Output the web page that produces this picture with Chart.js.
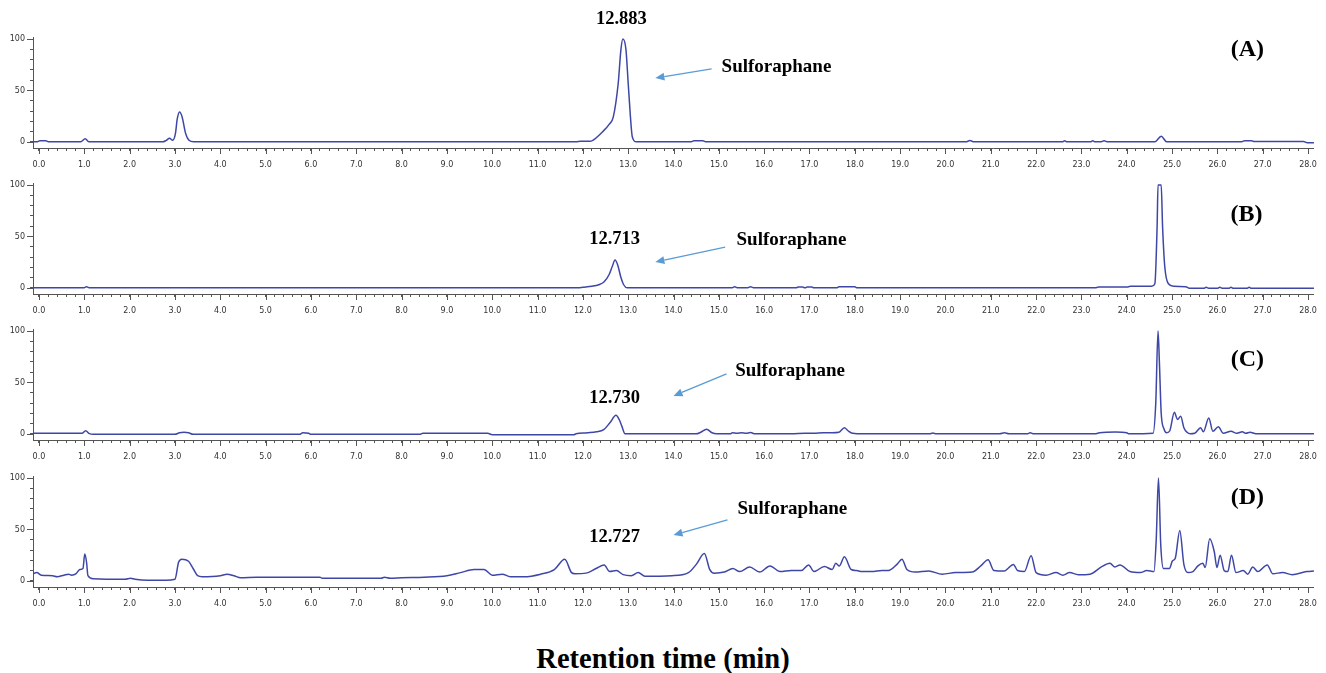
<!DOCTYPE html>
<html>
<head>
<meta charset="utf-8">
<title>Sulforaphane chromatograms</title>
<script src="https://cdn.jsdelivr.net/npm/chart.js@4.4.0/dist/chart.umd.min.js"></script>
<style>
  html, body { margin: 0; padding: 0; background: #fff; }
  #wrap { position: relative; width: 1326px; height: 673px; overflow: hidden; }
  #wrap canvas { position: absolute; left: 0; }
  #xtitle {
    position: absolute; left: 0; top: 643px; width: 1326px; line-height: 34px;
    text-align: center; font: bold 28.5px "Liberation Serif", "Times New Roman", serif; color: #000;
  }
</style>
</head>
<body>
<div id="wrap">
  <canvas id="chartA" width="1326" height="178" style="top:0px"></canvas>
  <canvas id="chartB" width="1326" height="178" style="top:146px"></canvas>
  <canvas id="chartC" width="1326" height="178" style="top:292px"></canvas>
  <canvas id="chartD" width="1326" height="178" style="top:439px"></canvas>
  <div id="xtitle">Retention time (min)</div>
</div>
<script>
// Data (retention time in min, relative intensity)
const timeA = [
  -0.13, -0.05, 0.02, 0.15, 0.22,
  0.92, 1.02, 1.1,
  2.73, 2.81, 2.88, 2.95, 3.01, 3.05, 3.1, 3.16, 3.23, 3.31, 3.41,
  11.85, 11.95, 12.15, 12.22, 12.44, 12.58, 12.67, 12.78, 12.84, 12.883, 12.95, 13.0, 13.05, 13.09, 13.18,
  14.38, 14.45, 14.65, 14.72,
  20.45, 20.54, 20.63,
  22.58, 22.63, 22.68,
  23.2, 23.25, 23.3, 23.42, 23.5, 23.58,
  24.62, 24.76, 24.88,
  26.52, 26.6, 26.75, 26.82,
  27.9, 27.98, 28.13
];
const valueA = [
  0, 0, 1, 1, 0,
  0, 3, 0,
  0, 1.5, 3.5, 1.5, 8, 22, 29, 24, 9, 1.5, 0,
  0, 0.5, 0.5, 1.5, 10, 17, 24, 57, 90, 100, 90, 57, 24, 5, 0,
  0, 1, 1, 0,
  0, 1.2, 0,
  0, 1, 0,
  0, 1, 0, 0, 1, 0,
  0, 5.5, 0,
  0, 1, 1, 0.3,
  0.3, -0.8, -0.8
];

const timeB = [
  -0.13, 0.98, 1.05, 1.12,
  11.9, 12.0, 12.2, 12.35, 12.47, 12.58, 12.65, 12.71, 12.77, 12.84, 12.9, 12.98,
  15.28, 15.35, 15.42, 15.62, 15.7, 15.78,
  16.7, 16.75, 16.85, 16.9, 16.95, 17.05, 17.1,
  17.6, 17.65, 18.0, 18.05,
  23.3, 23.38, 24.0, 24.08, 24.55,
  24.62, 24.67, 24.69, 24.76, 24.79, 24.84, 24.92, 25.04, 25.3, 25.4,
  25.7, 25.75, 25.82, 26.0, 26.05, 26.12, 26.25, 26.3, 26.35, 26.65, 26.7, 26.75, 28.13
];
const valueB = [
  0, 0, 1, 0,
  0, 0.5, 1.5, 3, 6, 13, 21, 27, 22, 10, 3, 0,
  0, 1, 0, 0, 1, 0,
  0, 0.7, 0.7, 0, 0.7, 0.7, 0,
  0, 1, 1, 0,
  0, 0.7, 0.7, 1.5, 1.5,
  4, 60, 100, 100, 60, 20, 4, 1.5, 1, -0.5,
  -0.5, 0.5, -0.5, -0.5, 0.5, -0.5, -0.5, 0.5, -0.5, -0.5, 0.5, -0.5, -0.5
];

const timeC = [
  -0.13, 0.95, 1.03, 1.1, 1.2,
  3.0, 3.1, 3.2, 3.3, 3.4,
  5.75, 5.82, 5.95, 6.0,
  8.4, 8.47, 9.9, 10.0,
  11.8, 11.85, 12.1, 12.3, 12.46, 12.6, 12.73, 12.8, 12.86, 12.93,
  14.5, 14.6, 14.73, 14.85, 14.95,
  15.25, 15.3, 15.4, 15.5, 15.6, 15.7, 15.8,
  16.6, 16.9, 17.1, 17.3, 17.5, 17.65, 17.77, 17.85, 17.95, 18.2,
  19.65, 19.72, 19.8,
  21.2, 21.3, 21.4, 21.8, 21.87, 21.95,
  23.3, 23.4, 23.75, 24.0, 24.05, 24.58,
  24.64, 24.69, 24.72, 24.76, 24.82, 24.88,
  24.95, 25.05, 25.12, 25.19, 25.26, 25.33, 25.4,
  25.5, 25.63, 25.69, 25.81, 25.9, 26.02, 26.13,
  26.3, 26.43, 26.55, 26.63, 26.72, 26.85, 28.13
];
const valueC = [
  0.5, 0.5, 3, 0.5, -0.5,
  -0.5, 1, 1.5, 1, -0.5,
  -0.5, 1, 0.5, -0.5,
  -0.5, 0.5, 0.5, -0.8,
  -0.8, 0, 1, 2, 4, 11, 18, 14, 7.5, 0,
  0, 1.5, 4.5, 1, 0,
  0, 1, 0.5, 1, 0.5, 1.2, 0,
  0, 0.5, 0.5, 1, 1, 1.5, 6, 3, 0.5, 0,
  0, 0.7, 0,
  0, 1, 0, 0, 1, 0,
  0, 1, 1.8, 1, 0, 0.5,
  30, 100, 70, 20, 5, 1,
  3, 21, 14, 17, 6, 1.5, 0,
  0.5, 6, 2, 15.5, 2.5, 7, 0.5,
  2.5, 0.5, 2, 0.5, 1.5, 0, 0
];

const timeD = [
  -0.13, -0.05, 0.05, 0.3, 0.4, 0.55, 0.65, 0.72, 0.82, 0.9,
  0.97, 1.01, 1.05, 1.08, 1.2, 1.9, 2.02, 2.12, 2.4, 2.8,
  3.0, 3.08, 3.15, 3.3, 3.4, 3.5, 3.6, 4.0, 4.15, 4.3,
  4.45, 4.8, 6.2, 6.25, 7.55, 7.62, 7.75, 8.0, 8.5, 9.0,
  9.3, 9.6, 9.82, 10.0, 10.22, 10.4, 10.7, 11.07, 11.37, 11.6,
  11.75, 11.82, 12.07, 12.29, 12.47, 12.59, 12.74, 12.89, 13.07, 13.22,
  13.37, 13.96, 14.33, 14.51, 14.68, 14.8, 14.9, 15.12, 15.31, 15.46,
  15.68, 15.9, 16.13, 16.35, 16.6, 16.82, 16.98, 17.1, 17.33, 17.5,
  17.58, 17.66, 17.77, 17.92, 18.04, 18.15, 18.37, 18.6, 18.74, 18.93,
  19.04, 19.15, 19.33, 19.63, 19.93, 20.22, 20.59, 20.78, 20.94, 21.07,
  21.3, 21.39, 21.5, 21.59, 21.74, 21.89, 22.0, 22.22, 22.44, 22.59,
  22.74, 22.93, 23.19, 23.44, 23.63, 23.74, 23.85, 24.07, 24.3, 24.44,
  24.6, 24.65, 24.7, 24.75, 24.81, 24.94, 25.01, 25.07, 25.17, 25.26,
  25.35, 25.46, 25.57, 25.68, 25.73, 25.83, 25.93, 25.99, 26.06, 26.15,
  26.23, 26.31, 26.41, 26.57, 26.67, 26.78, 26.89, 27.1, 27.22, 27.44,
  27.65, 27.97, 28.13
];
const valueD = [
  7, 8, 5.5, 5, 4, 5.5, 6.5, 5.5, 7, 11,
  12, 26, 18, 5, 2, 1.5, 2.5, 1.5, 0.5, 0.5,
  1.5, 18, 21, 19, 12, 5, 4, 5, 6.5, 5,
  3, 3.5, 3.5, 2.5, 2.5, 3.5, 2.5, 3, 3.5, 5,
  8, 11, 11, 5.5, 6.5, 4, 4, 6.5, 11, 21,
  8, 7, 7.5, 12, 15.5, 9, 10, 6, 5, 8,
  4.5, 5, 8, 16.5, 26.5, 11, 7.5, 8.5, 12, 9,
  13.5, 8.5, 14.5, 9, 10, 10, 15.5, 9, 14, 11,
  17, 14.5, 23.5, 11, 10, 9, 9, 10, 10, 16,
  21, 11, 8.5, 9.5, 6.5, 8, 8.5, 14.5, 20.5, 10,
  9.5, 12.5, 16, 10, 9, 24.5, 8, 5.5, 8, 5.5,
  8, 6, 6.5, 13.5, 17, 13.5, 15.5, 9, 8, 10,
  9, 40, 100, 35, 12, 12, 19.5, 22, 49, 16,
  8, 9, 14.5, 17, 13, 41, 28.5, 13, 25, 10,
  9, 25, 8, 10, 6.5, 13.5, 9, 15.5, 7, 8,
  6, 9, 9.5
];

const panelTags = ['(A)', '(B)', '(C)', '(D)'];
const peakLabels = ['12.883', '12.713', '12.730', '12.727'];
const compoundName = 'Sulforaphane';
const yTickLabels = [0, 50, 100];

// Constants
const X_MIN = -0.132, X_MAX = 28.13;
const Y_MIN = -6, Y_MAX = 102;
const traceColor = '#3f47a6';
const axisColor = '#555';
const arrowColor = '#5b9bd5';
const tickFont = { family: 'DejaVu Sans', size: 8 };

// Annotation positions (in data units of each panel)
const notePos = [
  { peak: [12.85, 119.5], name: [15.06, 72.8], arrow: [14.84, 70.9, 13.6, 62.1], tag: [26.66, 89.4] },
  { peak: [12.7, 47.5], name: [15.39, 46.5], arrow: [15.14, 39.7, 13.6, 25.1], tag: [26.64, 70.8] },
  { peak: [12.7, 34.9], name: [15.36, 61.2], arrow: [15.17, 58.3, 14.0, 36.9], tag: [26.66, 71.8] },
  { peak: [12.7, 42.7], name: [15.41, 70.0], arrow: [15.19, 59.2, 14.0, 44.6], tag: [26.66, 80.6] }
];

// Longer marks for labelled ticks
const majorTicks = {
  id: 'majorTicks',
  afterDraw(chart) {
    const { ctx, scales: { x, y } } = chart;
    ctx.save();
    ctx.strokeStyle = axisColor;
    ctx.lineWidth = 1;
    ctx.beginPath();
    for (let t = 0; t <= 28; t++) {
      const px = Math.round(x.getPixelForValue(t)) + 0.5;
      ctx.moveTo(px, x.top);
      ctx.lineTo(px, x.top + 6);
    }
    yTickLabels.forEach(v => {
      const py = Math.round(y.getPixelForValue(v)) + 0.5;
      ctx.moveTo(y.right, py);
      ctx.lineTo(y.right - 6, py);
    });
    ctx.stroke();
    ctx.restore();
  }
};

function drawArrow(ctx, x1, y1, x2, y2) {
  const ang = Math.atan2(y2 - y1, x2 - x1);
  const head = 9, half = 4;
  const bx = x2 - head * Math.cos(ang), by = y2 - head * Math.sin(ang);
  ctx.strokeStyle = arrowColor;
  ctx.fillStyle = arrowColor;
  ctx.lineWidth = 1.3;
  ctx.beginPath();
  ctx.moveTo(x1, y1);
  ctx.lineTo(bx, by);
  ctx.stroke();
  ctx.beginPath();
  ctx.moveTo(x2, y2);
  ctx.lineTo(bx + half * Math.sin(ang), by - half * Math.cos(ang));
  ctx.lineTo(bx - half * Math.sin(ang), by + half * Math.cos(ang));
  ctx.closePath();
  ctx.fill();
}

// Peak label, compound name, arrow and panel tag
function makeNotes(i) {
  return {
    id: 'peakNotes',
    afterDraw(chart) {
      const { ctx, scales: { x, y } } = chart;
      const p = notePos[i];
      const X = v => x.getPixelForValue(v);
      const Y = v => y.getPixelForValue(v);
      ctx.save();
      ctx.fillStyle = '#000';
      ctx.textBaseline = 'middle';
      ctx.font = 'bold 18.5px "Liberation Serif"';
      ctx.textAlign = 'center';
      ctx.fillText(peakLabels[i], X(p.peak[0]), Y(p.peak[1]));
      ctx.font = 'bold 19px "Liberation Serif"';
      ctx.textAlign = 'left';
      ctx.fillText(compoundName, X(p.name[0]), Y(p.name[1]));
      ctx.font = 'bold 24px "Liberation Serif"';
      ctx.textAlign = 'center';
      ctx.fillText(panelTags[i], X(p.tag[0]), Y(p.tag[1]));
      drawArrow(ctx, X(p.arrow[0]), Y(p.arrow[1]), X(p.arrow[2]), Y(p.arrow[3]));
      ctx.restore();
    }
  };
}

function makePanel(canvasId, times, values, i) {
  const ctx = document.getElementById(canvasId).getContext('2d');
  return new Chart(ctx, {
    type: 'line',
    data: {
      datasets: [{
        data: times.map((t, k) => ({ x: t, y: values[k] })),
        borderColor: traceColor,
        borderWidth: 1.5,
        pointRadius: 0,
        cubicInterpolationMode: 'monotone',
        fill: false
      }]
    },
    options: {
      responsive: false,
      animation: false,
      layout: { padding: { top: 37, right: 9, bottom: 0, left: 0 } },
      plugins: { legend: { display: false }, tooltip: { enabled: false } },
      scales: {
        x: {
          type: 'linear',
          min: X_MIN,
          max: X_MAX,
          border: { color: axisColor, width: 1 },
          grid: { drawOnChartArea: false, tickLength: 3, color: axisColor },
          ticks: {
            stepSize: 0.2,
            includeBounds: false,
            autoSkip: false,
            maxRotation: 0,
            minRotation: 0,
            padding: 9,
            color: '#333',
            font: tickFont,
            callback: v => Math.abs(v - Math.round(v)) < 1e-6 ? Math.round(v).toFixed(1) : ''
          },
          afterFit: s => { s.height = 30; }
        },
        y: {
          min: Y_MIN,
          max: Y_MAX,
          border: { color: axisColor, width: 1 },
          grid: { drawOnChartArea: false, tickLength: 3, color: axisColor },
          ticks: {
            stepSize: 10,
            includeBounds: false,
            autoSkip: false,
            padding: 5,
            color: '#333',
            font: tickFont,
            callback: v => yTickLabels.includes(v) ? String(v) : ''
          },
          afterFit: s => { s.width = 33; }
        }
      }
    },
    plugins: [majorTicks, makeNotes(i)]
  });
}

makePanel('chartA', timeA, valueA, 0);
makePanel('chartB', timeB, valueB, 1);
makePanel('chartC', timeC, valueC, 2);
makePanel('chartD', timeD, valueD, 3);
</script>
</body>
</html>
